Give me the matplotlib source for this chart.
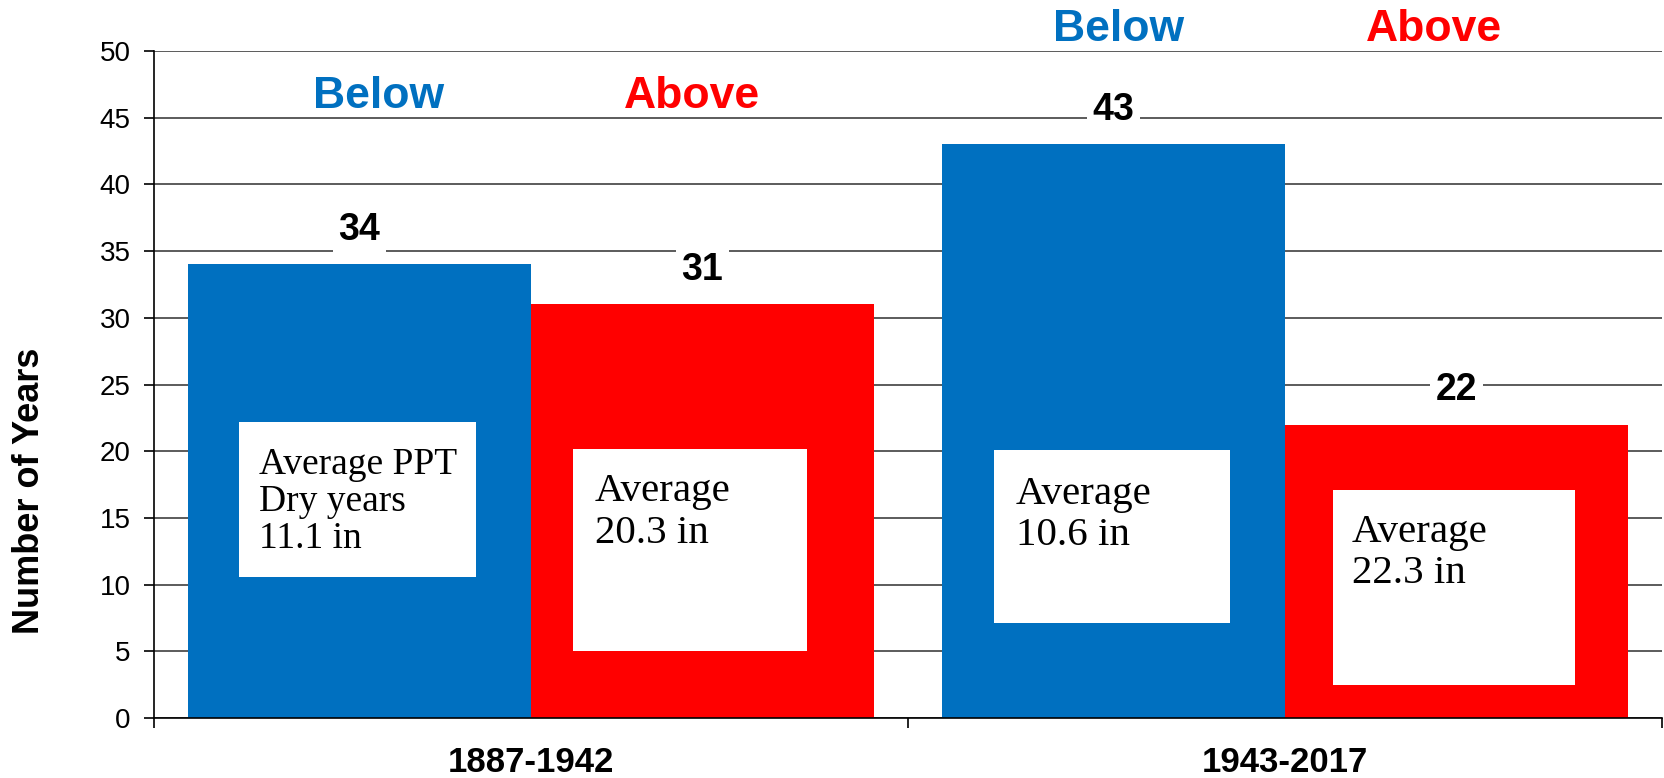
import matplotlib.pyplot as plt
import matplotlib.patches as mpatches
import numpy as np

# years below / above average precipitation, per period
periods = ['1887-1942', '1943-2017']
below_years = [34, 43]
above_years = [31, 22]
below_notes = ['Average PPT\nDry years\n11.1 in', 'Average\n10.6 in']
above_notes = ['Average\n20.3 in', 'Average\n22.3 in']

BLUE = '#0070C0'
RED = '#FF0000'

# white note boxes: (x0, x1, y0, y1), text anchor (x, y), font size
note_boxes = [(-0.387, -0.073, 10.6, 22.2), (0.056, 0.366, 5.0, 20.2),
              (0.614, 0.928, 7.1, 20.1), (1.064, 1.385, 2.5, 17.1)]
note_text_pos = [(-0.361, 16.2), (0.085, 15.4), (0.643, 15.2), (1.089, 12.4)]
note_sizes = [27, 29.5, 29.5, 29.5]
note_spacing = [1.1, 1.15, 1.15, 1.15]

# header positions: (below_x, above_x, y) per period
header_pos = [(-0.202, 0.214, 46.6), (0.779, 1.198, 51.6)]

fig = plt.figure(figsize=(16.65, 7.78), dpi=100)
ax = fig.add_axes([0.0925, 0.0771, 0.9055, 0.8573])

x = np.arange(len(periods))
w = 0.455
ax.bar(x - w / 2, below_years, w, color=BLUE, zorder=2)
ax.bar(x + w / 2, above_years, w, color=RED, zorder=2)

ax.set_xlim(-0.5, 1.5)
ax.set_ylim(0, 50)
ax.set_yticks(range(0, 51, 5))
ax.yaxis.grid(True, color='#404040', lw=1.2)
ax.set_axisbelow(True)

for s in ['top', 'right']:
    ax.spines[s].set_visible(False)
for s in ['left', 'bottom']:
    ax.spines[s].set_color('black')
    ax.spines[s].set_linewidth(1.2)

ax.tick_params(axis='y', length=7, width=1.2, pad=10, labelsize=20)
for t in ax.get_yticklabels():
    t.set_fontfamily('Liberation Sans')

ax.set_xticks(x)
ax.set_xticklabels(periods, fontsize=25, fontweight='bold', family='Liberation Sans')
ax.set_xticks([-0.5, 0.5, 1.5], minor=True)
ax.tick_params(axis='x', which='major', length=0, pad=20)
ax.tick_params(axis='x', which='minor', length=7, width=1.2)

# value labels above bars
for xi, v in zip(x - w / 2, below_years):
    ax.text(xi, v + 2.6, str(v), ha='center', va='center', fontsize=27,
            fontweight='bold', family='Liberation Sans', zorder=4,
            bbox=dict(fc='white', ec='none', pad=4))
for xi, v in zip(x + w / 2, above_years):
    ax.text(xi, v + 2.6, str(v), ha='center', va='center', fontsize=27,
            fontweight='bold', family='Liberation Sans', zorder=4,
            bbox=dict(fc='white', ec='none', pad=4))

# Below / Above headers
for bx, axx, hy in header_pos:
    ax.text(bx, hy, 'Below', ha='center', va='center', fontsize=32,
            fontweight='bold', color=BLUE, family='Liberation Sans', clip_on=False)
    ax.text(axx, hy, 'Above', ha='center', va='center', fontsize=32,
            fontweight='bold', color=RED, family='Liberation Sans', clip_on=False)

# note boxes with average precipitation
notes = [below_notes[0], above_notes[0], below_notes[1], above_notes[1]]
for (x0, x1, y0, y1), (tx, ty), fs, ls, txt in zip(note_boxes, note_text_pos, note_sizes,
                                                   note_spacing, notes):
    ax.add_patch(mpatches.Rectangle((x0, y0), x1 - x0, y1 - y0, fc='white',
                                    ec='none', zorder=3))
    ax.text(tx, ty, txt, ha='left', va='center', fontsize=fs,
            family='Liberation Serif', linespacing=ls, zorder=4)

fig.text(0.018, 0.369, 'Number of Years', rotation=90, ha='center', va='center',
         fontsize=26, fontweight='bold', family='Liberation Sans')

fig.savefig('out.png', dpi=100)
